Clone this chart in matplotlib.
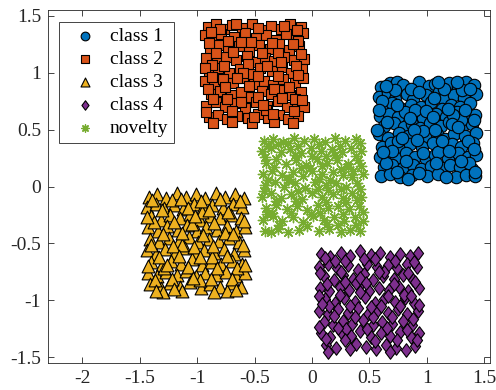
import numpy as np
import matplotlib.pyplot as plt
from matplotlib.path import Path

plt.rcParams['font.family'] = ['Liberation Serif', 'DejaVu Serif']
plt.rcParams['axes.unicode_minus'] = False

# samples per class, (x, y)
class1 = np.array([
    (0.60, 0.87), (0.68, 0.91), (0.74, 0.92), (0.79, 0.89), (0.93, 0.92), (1.02, 0.88), (1.07, 0.90), (1.19, 0.91), (1.27, 0.87), (1.34, 0.92), (1.41, 0.89),
    (0.58, 0.79), (0.66, 0.82), (0.72, 0.77), (0.83, 0.81), (0.88, 0.76), (0.99, 0.80), (1.11, 0.83), (1.15, 0.77), (1.24, 0.80), (1.32, 0.78), (1.43, 0.81),
    (0.62, 0.71), (0.70, 0.73), (0.77, 0.69), (0.86, 0.72), (0.95, 0.70), (1.04, 0.74), (1.13, 0.68), (1.21, 0.72), (1.29, 0.70), (1.38, 0.73),
    (0.59, 0.62), (0.67, 0.64), (0.75, 0.61), (0.81, 0.65), (0.91, 0.62), (0.97, 0.60), (1.08, 0.64), (1.17, 0.61), (1.26, 0.65), (1.35, 0.60), (1.42, 0.63),
    (0.63, 0.53), (0.71, 0.56), (0.80, 0.52), (0.87, 0.55), (0.94, 0.51), (1.03, 0.56), (1.12, 0.53), (1.19, 0.57), (1.31, 0.52), (1.39, 0.55),
    (0.58, 0.46), (0.66, 0.43), (0.76, 0.47), (0.84, 0.44), (0.92, 0.47), (1.00, 0.43), (1.09, 0.46), (1.16, 0.42), (1.24, 0.46), (1.33, 0.44), (1.43, 0.47),
    (0.61, 0.35), (0.69, 0.38), (0.78, 0.34), (0.85, 0.37), (0.96, 0.35), (1.05, 0.38), (1.14, 0.34), (1.22, 0.37), (1.30, 0.35), (1.40, 0.38),
    (0.59, 0.26), (0.67, 0.28), (0.73, 0.25), (0.82, 0.29), (0.90, 0.26), (0.99, 0.24), (1.07, 0.28), (1.18, 0.25), (1.27, 0.29), (1.36, 0.26), (1.43, 0.28),
    (0.63, 0.17), (0.70, 0.19), (0.79, 0.16), (0.88, 0.19), (0.95, 0.15), (1.04, 0.18), (1.13, 0.16), (1.20, 0.19), (1.29, 0.17), (1.39, 0.15),
    (0.60, 0.09), (0.68, 0.11), (0.77, 0.08), (0.87, 0.10), (1.00, 0.09), (1.10, 0.11), (1.25, 0.08), (1.34, 0.10), (1.42, 0.09),
    (0.72, 0.85), (1.15, 0.86), (0.90, 0.67), (1.30, 0.58), (0.75, 0.40), (1.10, 0.30), (0.64, 0.21), (1.37, 0.21), (0.97, 0.49), (1.23, 0.63),
    (0.64, 0.88), (0.86, 0.86), (1.10, 0.92), (1.31, 0.85), (0.61, 0.75), (0.93, 0.83), (1.06, 0.78), (1.38, 0.86), (0.74, 0.72), (0.99, 0.66),
    (1.18, 0.68), (1.33, 0.67), (0.65, 0.57), (0.85, 0.60), (1.05, 0.61), (1.22, 0.55), (1.41, 0.58), (0.57, 0.50), (0.78, 0.43), (0.89, 0.50),
    (1.07, 0.50), (1.27, 0.52), (0.70, 0.31), (0.91, 0.41), (1.13, 0.40), (1.36, 0.40), (0.62, 0.30), (0.82, 0.22), (0.97, 0.29), (1.19, 0.31),
    (1.41, 0.33), (0.74, 0.13), (0.93, 0.12), (1.08, 0.21), (1.30, 0.22), (1.42, 0.13), (0.84, 0.07), (1.17, 0.08), (0.58, 0.67), (1.26, 0.92),
])

class2 = np.array([
    (-0.91, 1.40), (-0.84, 1.43), (-0.77, 1.38), (-0.70, 1.42), (-0.61, 1.39), (-0.52, 1.43), (-0.44, 1.37), (-0.36, 1.41), (-0.27, 1.38), (-0.19, 1.43), (-0.10, 1.40),
    (-0.93, 1.33), (-0.86, 1.30), (-0.79, 1.34), (-0.68, 1.31), (-0.58, 1.35), (-0.49, 1.30), (-0.40, 1.33), (-0.31, 1.29), (-0.23, 1.34), (-0.14, 1.31), (-0.08, 1.35),
    (-0.89, 1.21), (-0.81, 1.24), (-0.73, 1.20), (-0.64, 1.23), (-0.55, 1.19), (-0.46, 1.24), (-0.37, 1.21), (-0.29, 1.25), (-0.20, 1.20), (-0.11, 1.23),
    (-0.92, 1.13), (-0.83, 1.10), (-0.75, 1.14), (-0.66, 1.11), (-0.57, 1.15), (-0.48, 1.09), (-0.41, 1.13), (-0.33, 1.10), (-0.24, 1.14), (-0.16, 1.11), (-0.07, 1.12),
    (-0.90, 1.01), (-0.82, 1.04), (-0.72, 1.00), (-0.63, 1.03), (-0.54, 0.99), (-0.45, 1.04), (-0.35, 1.01), (-0.26, 1.05), (-0.18, 1.00), (-0.09, 1.03),
    (-0.93, 0.93), (-0.85, 0.90), (-0.78, 0.94), (-0.69, 0.91), (-0.60, 0.95), (-0.51, 0.90), (-0.42, 0.93), (-0.34, 0.89), (-0.25, 0.94), (-0.15, 0.91), (-0.08, 0.95),
    (-0.88, 0.81), (-0.80, 0.84), (-0.71, 0.80), (-0.62, 0.83), (-0.53, 0.79), (-0.44, 0.84), (-0.36, 0.81), (-0.27, 0.85), (-0.19, 0.80), (-0.10, 0.83),
    (-0.92, 0.71), (-0.84, 0.74), (-0.76, 0.70), (-0.67, 0.73), (-0.58, 0.69), (-0.49, 0.74), (-0.39, 0.71), (-0.30, 0.75), (-0.22, 0.70), (-0.13, 0.73), (-0.07, 0.70),
    (-0.90, 0.61), (-0.82, 0.63), (-0.74, 0.59), (-0.65, 0.62), (-0.56, 0.60), (-0.47, 0.64), (-0.38, 0.60), (-0.29, 0.63), (-0.21, 0.59), (-0.12, 0.62),
    (-0.86, 0.56), (-0.70, 0.57), (-0.52, 0.56), (-0.33, 0.57), (-0.17, 0.56),
    (-0.80, 1.38), (-0.62, 1.27), (-0.30, 1.17), (-0.87, 1.07), (-0.47, 0.97), (-0.20, 0.87), (-0.74, 0.77), (-0.40, 0.67), (-0.56, 1.08), (-0.12, 1.28),
    (-0.88, 1.36), (-0.66, 1.43), (-0.47, 1.39), (-0.24, 1.41), (-0.13, 1.37), (-0.90, 1.26), (-0.73, 1.28), (-0.53, 1.27), (-0.35, 1.26), (-0.17, 1.25),
    (-0.84, 1.17), (-0.69, 1.18), (-0.44, 1.17), (-0.27, 1.09), (-0.10, 1.16), (-0.93, 1.04), (-0.77, 1.06), (-0.60, 1.00), (-0.39, 1.06), (-0.14, 1.06),
    (-0.87, 0.96), (-0.65, 0.95), (-0.55, 0.88), (-0.30, 0.97), (-0.12, 0.98), (-0.91, 0.86), (-0.76, 0.87), (-0.47, 0.79), (-0.33, 0.86), (-0.15, 0.77),
    (-0.86, 0.77), (-0.62, 0.74), (-0.43, 0.72), (-0.26, 0.78), (-0.09, 0.76), (-0.92, 0.65), (-0.70, 0.66), (-0.51, 0.61), (-0.34, 0.64), (-0.16, 0.66),
])

class3 = np.array([
    (-1.42, -0.09), (-1.35, -0.07), (-1.27, -0.10), (-1.18, -0.06), (-1.10, -0.09), (-1.01, -0.07), (-0.93, -0.10), (-0.84, -0.06), (-0.76, -0.09), (-0.67, -0.07), (-0.59, -0.10),
    (-1.44, -0.18), (-1.36, -0.15), (-1.29, -0.19), (-1.20, -0.16), (-1.12, -0.20), (-1.03, -0.15), (-0.95, -0.18), (-0.87, -0.16), (-0.78, -0.19), (-0.69, -0.15), (-0.61, -0.18),
    (-1.40, -0.26), (-1.32, -0.29), (-1.24, -0.25), (-1.15, -0.28), (-1.06, -0.24), (-0.98, -0.29), (-0.89, -0.26), (-0.80, -0.28), (-0.71, -0.25), (-0.62, -0.28),
    (-1.43, -0.36), (-1.34, -0.39), (-1.26, -0.35), (-1.17, -0.38), (-1.09, -0.34), (-1.00, -0.39), (-0.92, -0.36), (-0.83, -0.38), (-0.74, -0.35), (-0.66, -0.39), (-0.58, -0.36),
    (-1.41, -0.46), (-1.33, -0.49), (-1.25, -0.45), (-1.16, -0.48), (-1.07, -0.44), (-0.99, -0.49), (-0.90, -0.46), (-0.81, -0.48), (-0.72, -0.45), (-0.64, -0.49),
    (-1.44, -0.56), (-1.36, -0.59), (-1.28, -0.55), (-1.19, -0.58), (-1.11, -0.54), (-1.02, -0.59), (-0.94, -0.56), (-0.85, -0.58), (-0.77, -0.55), (-0.68, -0.59), (-0.59, -0.56),
    (-1.40, -0.66), (-1.31, -0.69), (-1.23, -0.65), (-1.14, -0.68), (-1.05, -0.64), (-0.96, -0.69), (-0.88, -0.66), (-0.79, -0.68), (-0.70, -0.65), (-0.61, -0.68),
    (-1.43, -0.76), (-1.35, -0.79), (-1.27, -0.75), (-1.18, -0.78), (-1.10, -0.74), (-1.01, -0.79), (-0.93, -0.76), (-0.84, -0.78), (-0.75, -0.75), (-0.66, -0.79), (-0.58, -0.76),
    (-1.41, -0.86), (-1.32, -0.89), (-1.24, -0.85), (-1.15, -0.88), (-1.06, -0.84), (-0.97, -0.89), (-0.89, -0.86), (-0.80, -0.88), (-0.71, -0.85), (-0.62, -0.88),
    (-1.30, -0.93), (-1.13, -0.92), (-0.85, -0.93), (-0.74, -0.92),
    (-1.22, -0.12), (-0.96, -0.22), (-1.38, -0.31), (-0.76, -0.41), (-1.13, -0.51), (-0.87, -0.62), (-1.29, -0.72), (-0.98, -0.82), (-0.65, -0.72), (-1.05, -0.33),
    (-1.39, -0.12), (-1.14, -0.11), (-0.97, -0.13), (-0.80, -0.11), (-0.63, -0.13), (-1.31, -0.21), (-1.08, -0.19), (-0.90, -0.21), (-0.73, -0.22), (-1.44, -0.27),
    (-1.20, -0.31), (-1.02, -0.26), (-0.85, -0.32), (-0.59, -0.30), (-1.30, -0.42), (-1.13, -0.41), (-0.95, -0.43), (-0.69, -0.42), (-1.40, -0.51), (-1.21, -0.52),
    (-1.03, -0.53), (-0.86, -0.52), (-0.60, -0.51), (-1.33, -0.62), (-1.16, -0.61), (-0.98, -0.62), (-0.74, -0.61), (-1.43, -0.70), (-1.26, -0.69), (-1.08, -0.71),
    (-0.83, -0.72), (-0.58, -0.69), (-1.37, -0.82), (-1.22, -0.81), (-1.04, -0.80), (-0.88, -0.81), (-0.70, -0.81), (-1.36, -0.92), (-1.20, -0.90), (-0.66, -0.91),
])

class4 = np.array([
    (0.08, -0.59), (0.16, -0.62), (0.25, -0.58), (0.33, -0.61), (0.42, -0.57), (0.51, -0.60), (0.59, -0.58), (0.68, -0.62), (0.77, -0.59), (0.85, -0.61), (0.92, -0.58),
    (0.06, -0.71), (0.14, -0.68), (0.22, -0.72), (0.31, -0.69), (0.40, -0.73), (0.48, -0.68), (0.57, -0.71), (0.66, -0.69), (0.74, -0.72), (0.83, -0.68), (0.91, -0.71),
    (0.10, -0.79), (0.19, -0.82), (0.27, -0.78), (0.36, -0.81), (0.45, -0.77), (0.53, -0.82), (0.62, -0.79), (0.71, -0.81), (0.79, -0.78), (0.88, -0.82),
    (0.07, -0.89), (0.15, -0.92), (0.24, -0.88), (0.32, -0.91), (0.41, -0.87), (0.50, -0.92), (0.58, -0.89), (0.67, -0.91), (0.76, -0.88), (0.84, -0.92), (0.93, -0.89),
    (0.11, -0.99), (0.20, -1.02), (0.28, -0.98), (0.37, -1.01), (0.46, -0.97), (0.55, -1.02), (0.63, -0.99), (0.72, -1.01), (0.81, -0.98), (0.89, -1.02),
    (0.06, -1.09), (0.14, -1.12), (0.23, -1.08), (0.31, -1.11), (0.40, -1.07), (0.49, -1.12), (0.57, -1.09), (0.66, -1.11), (0.75, -1.08), (0.83, -1.12), (0.92, -1.09),
    (0.10, -1.19), (0.18, -1.22), (0.27, -1.18), (0.35, -1.21), (0.44, -1.17), (0.53, -1.22), (0.61, -1.19), (0.70, -1.21), (0.79, -1.18), (0.87, -1.22),
    (0.08, -1.29), (0.16, -1.32), (0.25, -1.28), (0.34, -1.31), (0.42, -1.27), (0.51, -1.32), (0.60, -1.29), (0.68, -1.31), (0.77, -1.28), (0.86, -1.32), (0.93, -1.29),
    (0.12, -1.39), (0.21, -1.42), (0.38, -1.38), (0.47, -1.41), (0.56, -1.43), (0.64, -1.39), (0.73, -1.42), (0.90, -1.40), (0.14, -1.45), (0.82, -1.44),
    (0.20, -0.65), (0.63, -0.75), (0.38, -0.85), (0.80, -0.95), (0.15, -1.05), (0.53, -1.15), (0.30, -1.25), (0.74, -1.35), (0.45, -0.64), (0.60, -1.05),
    (0.11, -0.63), (0.29, -0.65), (0.55, -0.64), (0.72, -0.65), (0.89, -0.66), (0.07, -0.76), (0.25, -0.75), (0.42, -0.80), (0.58, -0.75), (0.84, -0.76),
    (0.13, -0.86), (0.29, -0.84), (0.47, -0.85), (0.71, -0.86), (0.90, -0.84), (0.06, -0.96), (0.24, -0.95), (0.42, -0.93), (0.66, -0.96), (0.86, -0.96),
    (0.09, -1.03), (0.33, -1.05), (0.51, -1.06), (0.77, -1.05), (0.93, -1.04), (0.19, -1.14), (0.37, -1.15), (0.70, -1.15), (0.88, -1.16), (0.06, -1.23),
    (0.23, -1.24), (0.48, -1.25), (0.65, -1.24), (0.83, -1.26), (0.12, -1.34), (0.29, -1.35), (0.55, -1.36), (0.91, -1.35), (0.33, -1.43), (0.68, -1.45),
])

novelty = np.array([
    (-0.42, 0.40), (-0.34, 0.42), (-0.25, 0.39), (-0.16, 0.43), (-0.07, 0.40), (0.02, 0.42), (0.11, 0.39), (0.20, 0.43), (0.29, 0.40), (0.38, 0.42),
    (-0.44, 0.31), (-0.36, 0.34), (-0.27, 0.30), (-0.19, 0.33), (-0.10, 0.29), (-0.01, 0.34), (0.08, 0.31), (0.17, 0.33), (0.26, 0.30), (0.34, 0.34), (0.43, 0.31),
    (-0.40, 0.21), (-0.31, 0.24), (-0.23, 0.20), (-0.14, 0.23), (-0.05, 0.19), (0.04, 0.24), (0.13, 0.21), (0.22, 0.23), (0.31, 0.20), (0.40, 0.23),
    (-0.43, 0.11), (-0.35, 0.14), (-0.26, 0.10), (-0.17, 0.13), (-0.08, 0.09), (0.00, 0.14), (0.09, 0.11), (0.18, 0.13), (0.27, 0.10), (0.36, 0.14), (0.44, 0.11),
    (-0.41, 0.01), (-0.32, 0.04), (-0.24, 0.00), (-0.15, 0.03), (-0.06, -0.01), (0.03, 0.04), (0.12, 0.01), (0.21, 0.03), (0.30, 0.00), (0.39, 0.03),
    (-0.44, -0.09), (-0.36, -0.06), (-0.27, -0.10), (-0.18, -0.07), (-0.09, -0.11), (0.00, -0.06), (0.09, -0.09), (0.18, -0.07), (0.27, -0.10), (0.35, -0.06), (0.43, -0.09),
    (-0.40, -0.19), (-0.31, -0.16), (-0.22, -0.20), (-0.13, -0.17), (-0.04, -0.21), (0.05, -0.16), (0.14, -0.19), (0.23, -0.17), (0.32, -0.20), (0.41, -0.17),
    (-0.43, -0.29), (-0.34, -0.26), (-0.26, -0.30), (-0.17, -0.27), (-0.08, -0.31), (0.01, -0.26), (0.10, -0.29), (0.19, -0.27), (0.28, -0.30), (0.37, -0.27), (0.44, -0.30),
    (-0.41, -0.39), (-0.30, -0.37), (-0.21, -0.40), (-0.11, -0.38), (0.06, -0.39), (0.15, -0.37), (0.25, -0.40), (0.33, -0.38), (0.42, -0.39),
    (-0.30, 0.37), (0.12, 0.27), (-0.20, 0.07), (0.25, -0.02), (-0.35, -0.23), (0.07, -0.23), (0.31, 0.17), (-0.12, 0.36), (0.38, -0.34), (-0.02, 0.16),
    (-0.38, 0.36), (-0.21, 0.38), (0.06, 0.37), (0.24, 0.36), (0.42, 0.38), (-0.41, 0.26), (-0.15, 0.28), (0.00, 0.27), (0.20, 0.28), (0.38, 0.27),
    (-0.33, 0.17), (-0.10, 0.16), (0.09, 0.18), (0.25, 0.15), (0.43, 0.18), (-0.38, 0.06), (-0.21, 0.06), (0.06, 0.07), (0.16, 0.06), (0.35, 0.08),
    (-0.42, -0.04), (-0.12, -0.04), (0.05, -0.02), (0.14, -0.03), (0.42, -0.02), (-0.31, -0.13), (-0.14, -0.13), (0.12, -0.14), (0.30, -0.14), (0.39, -0.12),
    (-0.39, -0.24), (-0.18, -0.23), (-0.01, -0.24), (0.27, -0.24), (0.44, -0.22), (-0.29, -0.34), (-0.04, -0.35), (0.13, -0.33), (0.23, -0.34), (-0.36, -0.40),
])

labels = ['class 1', 'class 2', 'class 3', 'class 4', 'novelty']
xticks = [-2, -1.5, -1, -0.5, 0, 0.5, 1, 1.5]
yticks = [-1.5, -1, -0.5, 0, 0.5, 1, 1.5]

axcol = (0.15, 0.15, 0.15)
diamond = Path([(0, 1), (0.75, 0), (0, -1), (-0.75, 0), (0, 1)],
               [Path.MOVETO, Path.LINETO, Path.LINETO, Path.LINETO, Path.CLOSEPOLY])

fig = plt.figure(figsize=(4.96, 3.90), dpi=100)
ax = fig.add_axes([48 / 496, 1 - 363 / 390, 442 / 496, 353 / 390])

ax.scatter(class1[:, 0], class1[:, 1], s=80, marker='o', c='#0072BD', edgecolors='k', linewidths=0.8, label=labels[0])
ax.scatter(class2[:, 0], class2[:, 1], s=60, marker='s', c='#D95319', edgecolors='k', linewidths=0.8, label=labels[1])
ax.scatter(class3[:, 0], class3[:, 1], s=85, marker='^', c='#EDB120', edgecolors='k', linewidths=0.8, label=labels[2])
ax.scatter(class4[:, 0], class4[:, 1], s=95, marker=diamond, c='#7E2F8E', edgecolors='k', linewidths=0.8, label=labels[3])
ax.scatter(novelty[:, 0], novelty[:, 1], s=55, marker=(8, 2, 0), c='#77AC30', linewidths=1.0, label=labels[4])

ax.set_xlim(-2.3, 1.55)
ax.set_ylim(-1.55, 1.55)
ax.set_xticks(xticks)
ax.set_yticks(yticks)
ax.set_xticklabels([f'{t:g}' for t in xticks])
ax.set_yticklabels([f'{t:g}' for t in yticks])
ax.tick_params(direction='in', length=4, width=0.6, top=True, right=True,
               colors=axcol, labelsize=14, pad=5)
for sp in ax.spines.values():
    sp.set_color(axcol)
    sp.set_linewidth(0.6)

# legend symbols are drawn a bit smaller than the data markers
leg = ax.legend(loc='upper left', bbox_to_anchor=(0.025, 0.966), borderaxespad=0,
                fancybox=False, edgecolor=axcol, framealpha=1, fontsize=14,
                markerscale=0.7, labelspacing=0.27, handlelength=2.1,
                handletextpad=0.2, borderpad=0.3)
leg.get_frame().set_linewidth(0.6)

fig.savefig('out.png', dpi=100)
